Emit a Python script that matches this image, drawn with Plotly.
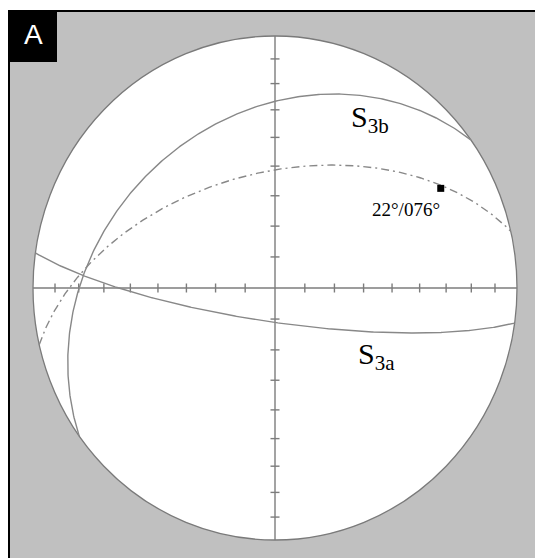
import numpy as np
import plotly.graph_objects as go

# Planes (dip direction / dip, degrees) plotted as lower-hemisphere great circles
plane_labels = ["S<sub>3a</sub>", "S<sub>3b</sub>", ""]
plane_dipdir = [188, 324, 347]
plane_dip = [79, 32, 52]
plane_dash = ["solid", "solid", "8px,4px,2px,4px"]

# Marked line (trend / plunge) and its annotation
point_trend = [60]
point_plunge = [22]
point_text = ["22°/076°"]

# Angular ticks along the N-S and E-W diameters (degrees from the centre)
tick_angles = [10, 20, 30, 40, 50, 60, 70, 80]

W, H = 535, 558
CX, CY, RX, RY = 275, 288, 242, 252  # net centre and radii on the page (px)


def equal_area(trend, plunge):
    t = np.radians(trend)
    p = np.radians(plunge)
    r = np.sqrt(2) * np.sin((np.pi / 2 - p) / 2)
    return r * np.sin(t), r * np.cos(t)


def great_circle(dipdir, dip, n=361):
    s = np.radians(dipdir - 90)
    dd = np.radians(dipdir)
    d = np.radians(dip)
    strike_v = np.array([np.sin(s), np.cos(s), 0.0])
    dip_v = np.array([np.cos(d) * np.sin(dd), np.cos(d) * np.cos(dd), np.sin(d)])
    phi = np.linspace(0, np.pi, n)
    v = np.outer(np.cos(phi), strike_v) + np.outer(np.sin(phi), dip_v)
    trend = np.degrees(np.arctan2(v[:, 0], v[:, 1]))
    plunge = np.degrees(np.arcsin(np.clip(v[:, 2], -1, 1)))
    return equal_area(trend, plunge)


fig = go.Figure()

# N-S / E-W cross with tick marks
GRID = "#7c7c7c"
fig.add_trace(go.Scatter(x=[-1, 1, None, 0, 0], y=[0, 0, None, -1, 1], mode="lines",
                         line=dict(color=GRID, width=1.4), hoverinfo="skip", showlegend=False))
tx, ty = [], []
hy = 4.5 / RY
hx = 4.5 / RX
for a in tick_angles:
    r = np.sqrt(2) * np.sin(np.radians(a) / 2)
    for sgn in (-1, 1):
        tx += [sgn * r, sgn * r, None]
        ty += [-hy, hy, None]
        tx += [-hx, hx, None]
        ty += [sgn * r, sgn * r, None]
fig.add_trace(go.Scatter(x=tx, y=ty, mode="lines", line=dict(color=GRID, width=1.4),
                         hoverinfo="skip", showlegend=False))

# Great circles
for dd, dp, dash in zip(plane_dipdir, plane_dip, plane_dash):
    gx, gy = great_circle(dd, dp)
    fig.add_trace(go.Scatter(x=gx, y=gy, mode="lines",
                             line=dict(color="#888888", width=1.4, dash=dash),
                             hoverinfo="skip", showlegend=False))

# Marked line
px_, py_ = equal_area(np.array(point_trend), np.array(point_plunge))
fig.add_trace(go.Scatter(x=px_, y=py_, mode="markers",
                         marker=dict(symbol="square", size=7, color="black"),
                         hoverinfo="skip", showlegend=False))

SERIF = "Liberation Serif, Times New Roman, serif"
for x0, y0, t in zip(px_, py_, point_text):
    fig.add_annotation(x=x0, y=y0, text=t, showarrow=False, xshift=-35, yshift=-21,
                       xanchor="center", yanchor="middle",
                       font=dict(family=SERIF, size=19, color="black"))

# Plane labels
label_pos = {"S<sub>3a</sub>": (0.421, -0.27), "S<sub>3b</sub>": (0.393, 0.671)}
for lab in plane_labels:
    if lab:
        lx, ly = label_pos[lab]
        fig.add_annotation(x=lx, y=ly, text=lab, showarrow=False,
                           xanchor="center", yanchor="middle",
                           font=dict(family=SERIF, size=30, color="black"))

# Panel frame, primitive circle and panel letter
def pxr(x):
    return x / W


def pyr(y):
    return 1 - y / H


shapes = [
    dict(type="rect", xref="paper", yref="paper", x0=pxr(10), x1=1.0, y0=0.0, y1=pyr(12),
         fillcolor="#c0c0c0", line=dict(width=0), layer="below"),
    dict(type="rect", xref="paper", yref="paper", x0=pxr(8), x1=pxr(10), y0=0.0, y1=pyr(10),
         fillcolor="black", line=dict(width=0), layer="below"),
    dict(type="rect", xref="paper", yref="paper", x0=pxr(8), x1=1.0, y0=pyr(12), y1=pyr(10),
         fillcolor="black", line=dict(width=0), layer="below"),
    dict(type="circle", xref="x", yref="y", x0=-1, x1=1, y0=-1, y1=1,
         fillcolor="white", line=dict(color="#7a7a7a", width=1.3), layer="below"),
    dict(type="rect", xref="paper", yref="paper", x0=pxr(8), x1=pxr(57), y0=pyr(62), y1=pyr(10),
         fillcolor="black", line=dict(width=0), layer="above"),
]
fig.add_annotation(xref="paper", yref="paper", x=pxr(33), y=pyr(35), text="A", showarrow=False,
                   xanchor="center", yanchor="middle",
                   font=dict(family="Liberation Sans, Arial, sans-serif", size=28, color="white"))

fig.update_layout(
    width=W, height=H, margin=dict(l=0, r=0, t=0, b=0),
    paper_bgcolor="white", plot_bgcolor="rgba(0,0,0,0)",
    shapes=shapes,
    xaxis=dict(range=[-CX / RX, (W - CX) / RX], visible=False, fixedrange=True),
    yaxis=dict(range=[-(H - CY) / RY, CY / RY], visible=False, fixedrange=True),
)

fig.write_html("out.html")
